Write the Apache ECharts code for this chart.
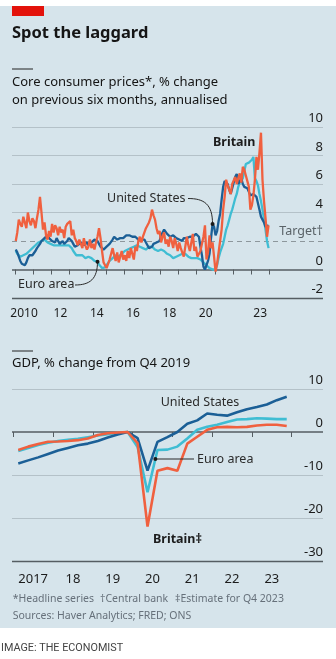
<!DOCTYPE html>
<html><head><meta charset="utf-8">
<script src="https://cdn.jsdelivr.net/npm/echarts@6/dist/echarts.min.js"></script>
<style>html,body{margin:0;padding:0;background:#fff;}#c{width:336px;height:659px;}</style>
</head><body><div id="c"></div>
<script>
// ---- Top chart: core consumer prices, % change on previous six months, annualised (monthly, Jan 2010 - Dec 2023)
const coreStartYear = 2010;
const britainCore = [
  2.0,2.6,3.5,3.2,3.0,3.7,3.3,2.9,4.0,3.4,3.1,3.6,
  3.4,2.9,3.6,4.2,5.1,4.0,2.8,3.3,2.4,2.1,2.7,2.3,
  3.2,2.6,3.1,2.9,2.4,3.0,2.6,2.8,2.2,3.0,3.2,3.3,
  3.4,2.4,2.8,2.2,2.0,1.7,2.1,1.8,1.5,2.2,1.7,1.4,
  1.6,2.1,1.5,1.8,1.4,1.9,2.3,2.9,2.2,1.3,0.5,0.3,
  0.1,0.2,0.7,1.1,1.5,1.0,0.6,1.2,0.5,0.9,1.3,0.7,
  1.0,0.6,1.3,0.8,1.5,1.1,0.7,1.6,1.3,2.0,2.3,1.9,
  2.3,2.6,2.9,3.0,3.3,3.6,4.2,3.8,3.5,2.9,2.5,2.7,
  1.9,2.3,2.6,1.8,2.1,1.6,2.3,2.0,1.5,2.2,1.8,1.3,
  1.9,1.5,1.2,0.9,1.6,2.3,1.7,1.3,1.9,2.5,1.3,1.6,
  0.9,1.0,1.3,1.8,2.3,3.1,0.7,1.2,2.4,1.5,1.9,0.9,
  -0.15,0.4,1.2,2.0,2.8,4.2,5.1,6.3,5.9,5.6,5.3,6.0,
  6.0,6.5,6.0,6.4,6.75,6.1,7.2,7.0,6.6,6.2,5.8,4.2,
  4.5,5.2,6.3,7.9,7.0,8.2,9.6,6.3,4.8,3.6,2.3,3.1
];
const usCore = [
  1.4,1.2,0.9,0.6,0.4,0.3,0.3,0.5,0.8,1.0,1.1,1.0,
  1.1,1.3,1.5,1.6,1.8,2.0,2.1,2.2,2.3,2.4,2.2,2.1,
  2.0,2.1,1.9,2.2,2.0,1.8,1.9,2.0,1.8,1.9,2.0,2.2,
  2.2,2.0,1.8,1.6,1.6,1.7,1.8,1.9,1.8,1.7,1.8,1.9,
  1.7,1.8,1.9,2.0,2.1,2.1,2.0,1.8,1.6,1.5,1.4,1.5,
  1.6,1.7,1.8,1.9,2.1,2.3,2.2,2.1,2.0,2.2,2.3,2.2,
  2.3,2.4,2.5,2.4,2.5,2.3,2.4,2.3,2.2,2.1,2.0,2.1,
  2.0,2.1,1.9,1.7,1.5,1.4,1.6,1.8,1.8,1.9,1.9,2.0,
  2.4,2.6,2.8,2.7,2.5,2.4,2.3,2.2,2.4,2.3,2.2,2.3,
  2.1,2.2,2.0,2.2,2.3,2.2,2.1,2.3,2.4,2.3,2.4,2.5,
  2.5,2.3,1.6,1.0,0.2,0.0,0.0,0.6,1.1,2.2,3.2,3.0,
  2.4,2.7,3.4,3.9,4.9,5.8,6.2,6.1,6.0,5.6,5.3,5.7,
  6.1,6.5,6.7,6.0,6.2,6.4,6.0,5.8,5.9,5.7,5.6,5.2,
  5.1,5.3,5.4,5.1,5.0,4.2,3.7,3.5,3.3,3.0,2.9,3.1
];
const euroCore = [
  1.3,1.1,1.0,0.9,0.9,1.0,1.1,1.1,1.2,1.3,1.4,1.5,
  1.6,1.7,1.8,1.9,2.0,2.0,2.1,2.1,2.0,1.9,1.9,1.8,
  1.8,1.7,1.8,1.7,1.6,1.7,1.8,1.7,1.6,1.7,1.8,1.7,
  1.6,1.5,1.3,1.2,1.0,0.9,1.0,1.1,1.0,0.9,0.8,0.9,
  0.9,0.8,0.8,0.7,0.6,0.6,0.55,0.35,0.25,0.1,0.05,0.15,
  0.3,0.4,0.6,0.7,0.8,0.9,1.0,1.0,0.9,1.0,1.1,1.2,
  1.3,1.4,1.4,1.5,1.5,1.6,1.6,1.7,1.7,1.7,1.6,1.6,
  1.5,1.5,1.4,1.5,1.6,1.7,1.6,1.5,1.4,1.3,1.3,1.4,
  1.4,1.3,1.3,1.2,1.1,1.1,1.0,0.9,0.8,0.8,0.9,1.0,
  1.0,1.0,1.1,1.2,1.1,1.0,0.9,0.9,0.8,0.8,0.8,0.8,
  0.8,0.7,0.7,0.6,0.5,0.4,0.3,0.2,0.1,0.0,0.0,-0.05,
  0.0,0.3,0.8,1.2,1.5,1.8,2.3,2.8,3.1,3.5,3.9,4.2,
  4.6,5.0,5.3,5.8,6.1,6.2,6.4,6.9,7.4,7.5,7.5,7.6,
  7.7,7.9,6.4,6.2,5.9,5.3,4.8,4.2,3.5,2.8,2.0,1.5
];
const inflationTarget = 2;
const topYLabels = [10, 8, 6, 4, 0, -2];
const topGridValues = [10, 8, 6, 4];
const topXLabels = {2010:'2010', 2012:'12', 2014:'14', 2016:'16', 2018:'18', 2020:'20', 2023:'23'};

// ---- Bottom chart: GDP, % change from Q4 2019 (quarterly, Q1 2017 - Q4 2023)
const gdpStartYear = 2017;
const gdpBritain = [-4.2,-3.4,-2.8,-2.25, -2.2,-2.1,-1.9,-1.5, -0.7,-0.3,-0.1,0, -2.6,-22.0,-9.0,-8.4, -9.0,-2.7,-1.1,0.5, 1.1,1.2,1.1,1.2, 1.5,1.7,1.7,1.4];
const gdpUS      = [-7.3,-6.6,-5.9,-5.1, -4.3,-3.7,-3.1,-2.7, -2.1,-1.3,-0.6,0, -1.4,-9.0,-2.3,-1.2, 0.0,1.9,2.7,4.3, 4.0,3.8,4.6,5.3, 5.8,6.4,7.4,8.2];
const gdpEuro    = [-4.4,-3.7,-3.0,-2.5, -2.1,-1.8,-1.6,-1.2, -0.8,-0.5,-0.2,0, -3.5,-14.0,-4.2,-4.1, -3.4,-1.5,0.5,1.2, 1.7,2.3,2.9,3.0, 3.2,3.1,3.0,3.0];
const bottomYLabels = [10, 0, -10, -20, -30];
const bottomGridValues = [10, -10, -20];
const bottomXLabels = {2017:'2017', 2018:'18', 2019:'19', 2020:'20', 2021:'21', 2022:'22', 2023:'23'};

const C_BRIT = '#f0603f', C_US = '#1b5f96', C_EURO = '#3fbdd3';
const FONT = "'Noto Sans', sans-serif";
const GRID_COL = '#b4c1c8', DARK_COL = '#555d62';
const TEXT = '#1c1c1c';

const monthly = arr => arr.map((v, i) => [coreStartYear + (i + 0.5) / 12, v]);
const quarterly = arr => arr.map((v, i) => [gdpStartYear + (i + 0.5) / 4, v]);
const halfYearLabel = map => v => { const y = Math.floor(v + 1e-9); return (Math.abs(v - y - 0.5) < 1e-6 && map[y]) ? map[y] : ''; };

const chart = echarts.init(document.getElementById('c'), null, {renderer: 'canvas'});

function lineMarks(gridVals, zero, axisMin, target) {
  const d = gridVals.map(v => ({yAxis: v, lineStyle: {color: GRID_COL, width: 1, type: 'solid'}}));
  if (target !== null) d.push({yAxis: target, lineStyle: {color: '#8d979c', width: 1.2, type: [5, 4]}});
  d.push({yAxis: zero, lineStyle: {color: DARK_COL, width: 1.7, type: 'solid'}});
  d.push({yAxis: axisMin, lineStyle: {color: DARK_COL, width: 1.3, type: 'solid'}});
  return {silent: true, symbol: 'none', z: 1, label: {show: false}, animation: false, data: d};
}

const option = {
  animation: false,
  backgroundColor: '#d6e4eb',
  textStyle: {fontFamily: FONT},
  grid: [
    {left: 12, right: 13, top: 127, height: 171},
    {left: 15, right: 66.7, top: 127, height: 171},
    {left: 12, right: 13, top: 389, height: 172},
    {left: 13.3, right: 44.3, top: 389, height: 172}
  ],
  xAxis: [
    {gridIndex: 0, type: 'value', min: 0, max: 1, show: false},
    {gridIndex: 1, type: 'value', position: 'bottom', min: 2010, max: 2024, interval: 1,
      axisLine: {show: false}, splitLine: {show: false}, axisLabel: {show: false},
      axisTick: {show: true, length: 5, lineStyle: {color: DARK_COL, width: 1}}},
    {gridIndex: 1, type: 'value', position: 'bottom', min: 2010, max: 2024, interval: 0.5,
      axisLine: {show: false}, splitLine: {show: false}, axisTick: {show: false},
      axisLabel: {formatter: halfYearLabel(topXLabels), fontSize: 12, color: TEXT, margin: 10, fontFamily: FONT}},
    {gridIndex: 2, type: 'value', min: 0, max: 1, show: false},
    {gridIndex: 3, type: 'value', position: 'bottom', min: 2017, max: 2024, interval: 1,
      axisLine: {show: false}, splitLine: {show: false}, axisLabel: {show: false},
      axisTick: {show: true, length: 5, lineStyle: {color: DARK_COL, width: 1}}},
    {gridIndex: 3, type: 'value', position: 'bottom', min: 2017, max: 2024, interval: 0.5,
      axisLine: {show: false}, splitLine: {show: false}, axisTick: {show: false},
      axisLabel: {formatter: halfYearLabel(bottomXLabels), fontSize: 13, color: TEXT, margin: 12, fontFamily: FONT}}
  ],
  yAxis: [
    {gridIndex: 0, type: 'value', min: -2, max: 10, interval: 2, position: 'right',
      axisLine: {show: false}, axisTick: {show: false}, splitLine: {show: false},
      axisLabel: {inside: true, margin: 0, verticalAlign: 'bottom', padding: [0, 0, 2, 0], fontSize: 13, color: TEXT, fontFamily: FONT,
        formatter: v => topYLabels.includes(v) ? String(v) : ''}},
    {gridIndex: 1, type: 'value', min: -2, max: 10, show: false},
    {gridIndex: 2, type: 'value', min: -30, max: 10, interval: 10, position: 'right',
      axisLine: {show: false}, axisTick: {show: false}, splitLine: {show: false},
      axisLabel: {inside: true, margin: 0, verticalAlign: 'bottom', padding: [0, 0, 2, 0], fontSize: 13, color: TEXT, fontFamily: FONT,
        formatter: v => bottomYLabels.includes(v) ? String(v) : ''}},
    {gridIndex: 3, type: 'value', min: -30, max: 10, show: false}
  ],
  series: [
    {type: 'line', xAxisIndex: 0, yAxisIndex: 0, data: [], markLine: lineMarks(topGridValues, 0, -2, inflationTarget)},
    {type: 'line', xAxisIndex: 3, yAxisIndex: 2, data: [], markLine: lineMarks(bottomGridValues, 0, -30, null)},
    {name: 'Euro area', type: 'line', xAxisIndex: 1, yAxisIndex: 1, data: monthly(euroCore), showSymbol: false, lineStyle: {color: C_EURO, width: 2.3}, itemStyle: {color: C_EURO}, z: 3},
    {name: 'United States', type: 'line', xAxisIndex: 1, yAxisIndex: 1, data: monthly(usCore), showSymbol: false, lineStyle: {color: C_US, width: 2.3}, itemStyle: {color: C_US}, z: 4},
    {name: 'Britain', type: 'line', xAxisIndex: 1, yAxisIndex: 1, data: monthly(britainCore), showSymbol: false, lineStyle: {color: C_BRIT, width: 2.3}, itemStyle: {color: C_BRIT}, z: 5},
    {name: 'Euro area GDP', type: 'line', xAxisIndex: 4, yAxisIndex: 3, data: quarterly(gdpEuro), showSymbol: false, lineStyle: {color: C_EURO, width: 2.6}, itemStyle: {color: C_EURO}, z: 3},
    {name: 'US GDP', type: 'line', xAxisIndex: 4, yAxisIndex: 3, data: quarterly(gdpUS), showSymbol: false, lineStyle: {color: C_US, width: 2.6}, itemStyle: {color: C_US}, z: 4},
    {name: 'Britain GDP', type: 'line', xAxisIndex: 4, yAxisIndex: 3, data: quarterly(gdpBritain), showSymbol: false, lineStyle: {color: C_BRIT, width: 2.6}, itemStyle: {color: C_BRIT}, z: 5}
  ]
};
chart.setOption(option);

// connector endpoints computed from the data through the chart's own scales
const px = (seriesIndex, pt) => chart.convertToPixel({seriesIndex}, pt);
const usDotIdx = (2020 - coreStartYear) * 12 + 10;
const euDotIdx = (2014 - coreStartYear) * 12 + 6;
const usDot = px(3, monthly(usCore)[usDotIdx]);
const euDot = px(2, monthly(euroCore)[euDotIdx]);
const qa = px(5, quarterly(gdpEuro)[13]);
const qb = px(5, quarterly(gdpEuro)[14]);
const targetY = 459;
const f = Math.min(1, Math.max(0, (targetY - qa[1]) / (qb[1] - qa[1])));
const gDot = [qa[0] + f * (qb[0] - qa[0]), qa[1] + f * (qb[1] - qa[1])];

const txt = (text, x, y, opts = {}) => ({
  type: 'text', z: 50, silent: true,
  style: Object.assign({text, x, y, fill: TEXT, font: `${opts.weight || 'normal'} ${opts.size || 12.5}px ${FONT}`,
    align: opts.align || 'left', verticalAlign: 'middle'}, opts.style || {})
});
const FOOT = '#66707a';

chart.setOption({graphic: [
  {type: 'rect', z: 50, silent: true, shape: {x: 0, y: 0, width: 336, height: 6}, style: {fill: '#fff'}},
  {type: 'rect', z: 50, silent: true, shape: {x: 0, y: 628, width: 336, height: 31}, style: {fill: '#fff'}},
  {type: 'rect', z: 50, silent: true, shape: {x: 12, y: 6, width: 32, height: 10}, style: {fill: '#e3120b'}},
  txt('Spot the laggard', 12, 33, {size: 16.5, weight: 'bold', style: {fill: '#151515'}}),
  {type: 'line', z: 50, silent: true, shape: {x1: 12, y1: 69, x2: 33, y2: 69}, style: {stroke: '#222', lineWidth: 1}},
  txt('Core consumer prices*, % change', 12, 82.5, {size: 13, style: {fill: '#141414'}}),
  txt('on previous six months, annualised', 12, 100, {size: 13, style: {fill: '#141414'}}),
  {type: 'line', z: 50, silent: true, shape: {x1: 12, y1: 351, x2: 33, y2: 351}, style: {stroke: '#222', lineWidth: 1}},
  txt('GDP, % change from Q4 2019', 12, 363.5, {size: 13, style: {fill: '#141414'}}),

  txt('Britain', 213, 142, {size: 12.5, weight: 'bold'}),
  txt('United States', 107, 198, {style: {fill: '#2b2b2b'}}),
  txt('Euro area', 18, 284.5, {style: {fill: '#2b2b2b'}}),
  txt('Target†', 323, 231, {align: 'right', style: {fill: '#5a6368'}}),
  {type: 'bezierCurve', z: 50, silent: true, shape: {x1: 188, y1: 198.5, cpx1: 204, cpy1: 198.5, cpx2: usDot[0], cpy2: 204, x2: usDot[0], y2: usDot[1]}, style: {stroke: '#2a2a2a', lineWidth: 1, fill: null}},
  {type: 'circle', z: 51, silent: true, shape: {cx: usDot[0], cy: usDot[1], r: 2}, style: {fill: '#1a1a1a'}},
  {type: 'bezierCurve', z: 50, silent: true, shape: {x1: 75, y1: 285, cpx1: 90, cpy1: 285, cpx2: euDot[0], cpy2: 279, x2: euDot[0], y2: euDot[1]}, style: {stroke: '#2a2a2a', lineWidth: 1, fill: null}},
  {type: 'circle', z: 51, silent: true, shape: {cx: euDot[0], cy: euDot[1], r: 2}, style: {fill: '#1a1a1a'}},

  txt('United States', 160.7, 402, {style: {fill: '#2b2b2b'}}),
  txt('Euro area', 197, 459, {style: {fill: '#2b2b2b'}}),
  {type: 'line', z: 50, silent: true, shape: {x1: gDot[0], y1: gDot[1], x2: 194, y2: gDot[1]}, style: {stroke: '#2a2a2a', lineWidth: 1}},
  {type: 'circle', z: 51, silent: true, shape: {cx: gDot[0], cy: gDot[1], r: 2}, style: {fill: '#1a1a1a'}},
  txt('Britain‡', 153, 539.5, {size: 12.5, weight: 'bold'}),

  txt('*Headline series', 12.7, 599, {size: 10.5, style: {fill: FOOT}}),
  txt('†Central bank', 100, 599, {size: 10.5, style: {fill: FOOT}}),
  txt('‡Estimate for Q4 2023', 175, 599, {size: 10.5, style: {fill: FOOT}}),
  txt('Sources: Haver Analytics; FRED; ONS', 12.7, 616, {size: 10.5, style: {fill: FOOT}}),
  txt('IMAGE: THE ECONOMIST', 1, 648, {size: 10.5, style: {fill: '#444', font: "normal 10.8px Roboto, sans-serif"}})
]});
</script>
</body></html>
